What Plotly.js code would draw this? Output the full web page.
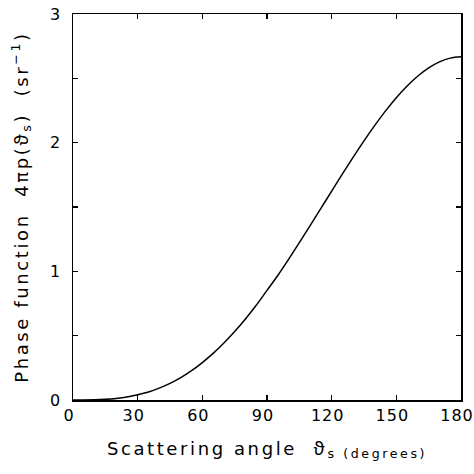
<!DOCTYPE html>
<html>
<head>
<meta charset="utf-8">
<script src="https://cdn.plot.ly/plotly-3.0.1.min.js"></script>
<style>
html,body{margin:0;padding:0;background:#fff;}
.xtitle,.ytitle{letter-spacing:2.6px;}
.xtick text,.ytick text{letter-spacing:1px;}
</style>
</head>
<body>
<div id="chart" style="width:474px;height:474px;"></div>
<script>
// Scattering angle (degrees)
const angles = [0,5,10,15,20,25,30,35,40,45,50,55,60,65,70,75,80,85,90,95,100,105,110,115,120,125,130,135,140,145,150,155,160,165,170,175,180];
// Phase function 4πp (sr^-1)
const phase = [0,0.0002,0.0015,0.005,0.012,0.023,0.040,0.062,0.092,0.129,0.174,0.228,0.291,0.362,0.443,0.532,0.630,0.736,0.852,0.968,1.093,1.223,1.355,1.489,1.624,1.758,1.888,2.014,2.134,2.247,2.349,2.440,2.518,2.581,2.628,2.657,2.667];
const xTicks = [0,30,60,90,120,150,180];
const yTicks = [0,1,2,3];

const font = {family: 'DejaVu Sans, sans-serif', color: '#000'};
const theta = '<span style="font-family:Noto Sans">ϑ</span>';

const trace = {
  x: angles, y: phase, type: 'scatter', mode: 'lines',
  line: {color: '#000', width: 1.5, shape: 'spline'},
  hoverinfo: 'skip'
};

const layout = {
  width: 474, height: 474,
  margin: {l: 73, r: 13, t: 14, b: 74},
  paper_bgcolor: '#fff', plot_bgcolor: '#fff',
  showlegend: false,
  font: font,
  xaxis: {
    range: [0, 180], tickvals: xTicks, ticktext: xTicks.map(String),
    ticks: 'inside', ticklen: 5, tickwidth: 1.5, tickcolor: '#000',
    showline: true, linecolor: '#000', linewidth: 1.5, mirror: 'ticks',
    showgrid: false, zeroline: false,
    ticklabeloverflow: 'allow', ticklabelshift: -4,
    tickfont: {family: font.family, size: 16, color: '#000'},
    title: {text: 'Scattering angle  ' + theta + '<sub>s (degrees)</sub>', standoff: 18,
            font: {family: font.family, size: 18, color: '#000'}}
  },
  yaxis: {
    range: [0, 3], tickvals: yTicks, ticktext: yTicks.map(String),
    ticks: 'inside', ticklen: 5, tickwidth: 1.5, tickcolor: '#000',
    minor: {dtick: 0.5, ticks: 'inside', ticklen: 5, tickwidth: 1.5, tickcolor: '#000', showgrid: false},
    showline: true, linecolor: '#000', linewidth: 1.5, mirror: 'ticks',
    showgrid: false, zeroline: false,
    tickfont: {family: font.family, size: 16, color: '#000'},
    ticklabelstandoff: 7,
    title: {text: 'Phase function  4πp(' + theta + '<sub>s</sub>)  (sr<sup>−1</sup>)', standoff: 17,
            font: {family: font.family, size: 18, color: '#000'}}
  }
};

Plotly.newPlot('chart', [trace], layout, {displayModeBar: false, staticPlot: true});
</script>
</body>
</html>
